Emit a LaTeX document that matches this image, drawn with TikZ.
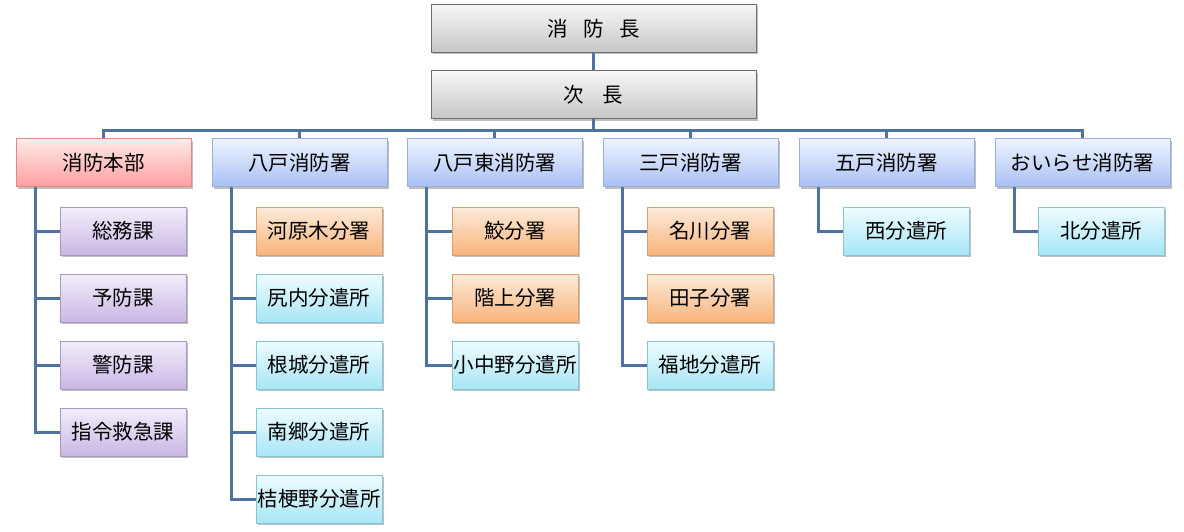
\documentclass[tikz,border=0pt]{standalone}
\usepackage{fontspec}
\setmainfont{Noto Sans CJK JP}
\usetikzlibrary{shadows}
\definecolor{lineblue}{HTML}{4E73A0}
\definecolor{grayT}{HTML}{F7F7F7}\definecolor{grayB}{HTML}{C6C6C6}\definecolor{grayD}{HTML}{6E6E6E}
\definecolor{redT}{HTML}{FFEAEA}\definecolor{redB}{HTML}{FF9E9E}\definecolor{redD}{HTML}{E08888}
\definecolor{blueT}{HTML}{EEF3FF}\definecolor{blueB}{HTML}{A9C0F5}\definecolor{blueD}{HTML}{9AAEDC}
\definecolor{purT}{HTML}{F3EEFB}\definecolor{purB}{HTML}{C9B6E4}\definecolor{purD}{HTML}{A898C4}
\definecolor{orT}{HTML}{FDEBDA}\definecolor{orB}{HTML}{F9B47C}\definecolor{orD}{HTML}{D9A070}
\definecolor{cyT}{HTML}{EEFCFF}\definecolor{cyB}{HTML}{A8E6F6}\definecolor{cyD}{HTML}{88C4D4}
\tikzset{
  box/.style={draw, line width=1pt, inner sep=0pt, font=\fontsize{20.5}{24}\selectfont, text=black,
    drop shadow={shadow xshift=1.5pt, shadow yshift=-2pt, opacity=0.25, fill=black}},
  topbox/.style={box, minimum width=325pt, minimum height=48pt, top color=grayT, bottom color=grayB, draw=grayD},
  redbox/.style={box, minimum width=175pt, minimum height=48pt, top color=redT, bottom color=redB, draw=redD},
  headbox/.style={box, minimum width=175pt, minimum height=48pt, top color=blueT, bottom color=blueB, draw=blueD},
  purbox/.style={box, minimum width=126pt, minimum height=48pt, top color=purT, bottom color=purB, draw=purD},
  orbox/.style={box, minimum width=126pt, minimum height=48pt, top color=orT, bottom color=orB, draw=orD},
  cybox/.style={box, minimum width=126pt, minimum height=48pt, top color=cyT, bottom color=cyB, draw=cyD},
  conn/.style={draw=lineblue, line width=3pt}
}
\begin{document}
\begin{tikzpicture}[x=1pt,y=-1pt]
\useasboundingbox (0,0) rectangle (1184,532);
% top
\node[topbox] (chief) at (593.5,28.5) {消\hspace{0.75em}防\hspace{0.75em}長};
\node[topbox] (vice) at (593.5,95) {次\hspace{0.9em}長};
% headers
\node[redbox] (hq) at (103.5,163) {消防本部};
\node[headbox] (h8) at (299.5,163) {八戸消防署};
\node[headbox] (h8e) at (494.5,163) {八戸東消防署};
\node[headbox] (san) at (690.5,163) {三戸消防署};
\node[headbox] (go) at (886.5,163) {五戸消防署};
\node[headbox] (oi) at (1082.5,163) {おいらせ消防署};
% children
\node[purbox] (hq1) at (123,231) {総務課};
\node[purbox] (hq2) at (123,298) {予防課};
\node[purbox] (hq3) at (123,365) {警防課};
\node[purbox] (hq4) at (123,432) {指令救急課};
\node[orbox] (a1) at (319,231) {河原木分署};
\node[cybox] (a2) at (319,298) {尻内分遣所};
\node[cybox] (a3) at (319,365) {根城分遣所};
\node[cybox] (a4) at (319,432) {南郷分遣所};
\node[cybox] (a5) at (319,499) {桔梗野分遣所};
\node[orbox] (b1) at (515,231) {鮫分署};
\node[orbox] (b2) at (515,298) {階上分署};
\node[cybox] (b3) at (515,365) {小中野分遣所};
\node[orbox] (c1) at (710,231) {名川分署};
\node[orbox] (c2) at (710,298) {田子分署};
\node[cybox] (c3) at (710,365) {福地分遣所};
\node[cybox] (d1) at (906,231) {西分遣所};
\node[cybox] (e1) at (1101,231) {北分遣所};
% connectors
\coordinate (busL) at (103.5,131);
\coordinate (busR) at (1082.5,131);
\path[conn] (chief.south) -- (vice.north);
\path[conn] (vice.south) -- (vice.south |- busL);
\path[conn, line join=miter] (hq.north) -- (busL) -- (busR) -- (oi.north);
\foreach \h in {h8,h8e,san,go} { \path[conn] (\h.north) -- (\h.north |- busL); }
% trunks
\foreach \h/\last/\kids in {hq/hq4/{hq1,hq2,hq3}, h8/a5/{a1,a2,a3,a4}, h8e/b3/{b1,b2}, san/c3/{c1,c2}, go/d1/{}, oi/e1/{}} {
  \coordinate (\h-t) at ([xshift=-68pt]\h.south);
  \path[conn, line join=miter] (\h-t) -- (\h-t |- \last.west) -- (\last.west);
  \foreach \k in \kids { \path[conn] (\h-t |- \k.west) -- (\k.west); }
}
\end{tikzpicture}
\end{document}
